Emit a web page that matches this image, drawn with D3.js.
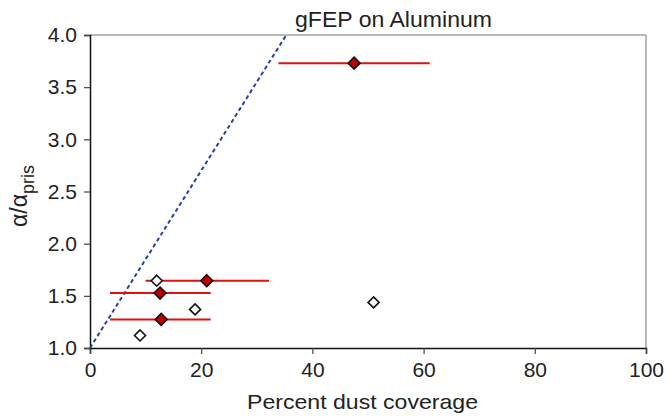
<!DOCTYPE html>
<html><head><meta charset="utf-8">
<script src="https://cdn.jsdelivr.net/npm/d3@7"></script>
<style>body{margin:0;background:#fff}svg{display:block}text{font-family:"Liberation Sans",Arial,sans-serif;fill:#222}</style>
</head><body><svg id="c" width="670" height="417"></svg>
<script>
const xTicks = [0, 20, 40, 60, 80, 100];
const yTicks = [1.0, 1.5, 2.0, 2.5, 3.0, 3.5, 4.0];
// filled (red) points with horizontal error bars
const redX = [47.5, 21.0, 12.6, 12.8];
const redY = [3.73, 1.645, 1.527, 1.274];
const redLo = [33.9, 10.0, 3.6, 3.6];
const redHi = [61.1, 32.2, 21.7, 21.7];
// open points
const openX = [12.0, 18.9, 9.0, 51.0];
const openY = [1.645, 1.37, 1.12, 1.437];
// dashed reference line
const lineX = [0, 35.3];
const lineY = [1.0, 4.0];

const svg = d3.select("#c");
const m = {l: 90, r: 646, t: 35, b: 348};
const x = d3.scaleLinear().domain([0, 100]).range([m.l, m.r]);
const y = d3.scaleLinear().domain([1, 4]).range([m.b, m.t]);

// frame top/right
svg.append("line").attr("x1", m.l).attr("x2", m.r).attr("y1", m.t).attr("y2", m.t).attr("stroke", "#a0a0a0").attr("stroke-width", 1.5);
svg.append("line").attr("x1", m.r).attr("x2", m.r).attr("y1", m.t).attr("y2", m.b).attr("stroke", "#a0a0a0").attr("stroke-width", 1.5);

const xa = svg.append("g").attr("transform", `translate(0,${m.b})`)
  .call(d3.axisBottom(x).tickValues(xTicks).tickSize(6).tickPadding(8).tickFormat(d3.format("d")));
const ya = svg.append("g").attr("transform", `translate(${m.l},0)`)
  .call(d3.axisLeft(y).tickValues(yTicks).tickSize(6).tickPadding(7).tickFormat(d3.format(".1f")));
[xa, ya].forEach(g => {
  g.attr("font-size", 21).attr("font-family", '"Liberation Sans",Arial,sans-serif');
  g.select(".domain").attr("stroke", "#111").attr("stroke-width", 1.5);
  g.selectAll(".tick line").attr("stroke", "#444").attr("stroke-width", 1.2);
  g.selectAll("text").attr("font-size", 21).attr("fill", "#222");
});

// dashed line
svg.append("line")
  .attr("x1", x(lineX[0])).attr("y1", y(lineY[0]))
  .attr("x2", x(lineX[1])).attr("y2", y(lineY[1]))
  .attr("stroke", "#2a3fa8").attr("stroke-width", 2).attr("stroke-dasharray", "4,3");

// error bars
redX.forEach((d, i) => {
  svg.append("line").attr("x1", x(redLo[i])).attr("x2", x(redHi[i]))
    .attr("y1", y(redY[i])).attr("y2", y(redY[i]))
    .attr("stroke", "#e01010").attr("stroke-width", 2);
});

const diamond = s => `M0,${-s}L${s},0L0,${s}L${-s},0Z`;
openX.forEach((d, i) => {
  svg.append("path").attr("d", diamond(5.5)).attr("transform", `translate(${x(d)},${y(openY[i])})`)
    .attr("fill", "#fff").attr("stroke", "#111").attr("stroke-width", 1.6);
});
redX.forEach((d, i) => {
  svg.append("path").attr("d", diamond(6)).attr("transform", `translate(${x(d)},${y(redY[i])})`)
    .attr("fill", "#c00000").attr("stroke", "#111").attr("stroke-width", 1.6);
});

// title
svg.append("text").attr("x", 393.5).attr("y", 27).attr("text-anchor", "middle").attr("font-size", 22)
  .attr("textLength", 197).attr("lengthAdjust", "spacingAndGlyphs").text("gFEP on Aluminum");
// x label
svg.append("text").attr("x", 362.5).attr("y", 409).attr("text-anchor", "middle").attr("font-size", 21)
  .attr("textLength", 231).attr("lengthAdjust", "spacingAndGlyphs").text("Percent dust coverage");
// y label
const yl = svg.append("text").attr("transform", "translate(27,196) rotate(-90)").attr("text-anchor", "middle").attr("font-size", 23);
yl.append("tspan").text("α/α");
yl.append("tspan").attr("font-size", 18).attr("dy", 7).text("pris");
</script></body></html>
